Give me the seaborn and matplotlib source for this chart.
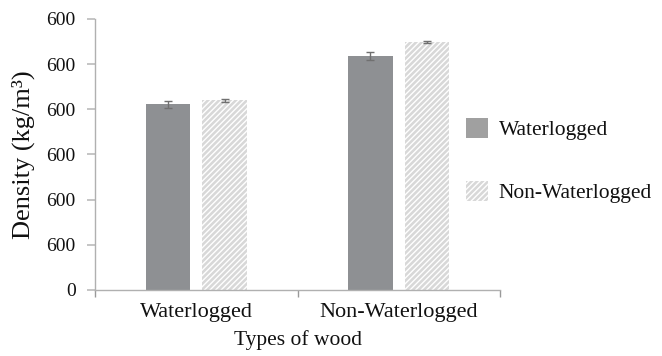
import pandas as pd
import seaborn as sns
import matplotlib.pyplot as plt
from matplotlib.patches import Patch

# values
wood_types = ['Waterlogged', 'Non-Waterlogged']
series = ['Waterlogged', 'Non-Waterlogged']
density_waterlogged = [411, 519]
density_non_waterlogged = [420, 549]
err_waterlogged = [7, 9]
err_non_waterlogged = [3, 3]
ytick_values = [0, 100, 200, 300, 400, 500, 600]
ytick_labels = ['0', '600', '600', '600', '600', '600', '600']

df = pd.DataFrame({
    'wood': wood_types * 2,
    'series': [series[0]] * 2 + [series[1]] * 2,
    'density': density_waterlogged + density_non_waterlogged,
    'err': err_waterlogged + err_non_waterlogged,
})

sns.set_style('white')
plt.rcParams['font.family'] = ['Liberation Serif', 'DejaVu Serif']
plt.rcParams['text.color'] = '#111111'
plt.rcParams['axes.labelcolor'] = '#111111'
plt.rcParams['xtick.labelcolor'] = '#111111'
plt.rcParams['ytick.labelcolor'] = '#111111'
plt.rcParams['hatch.color'] = '#999999'
plt.rcParams['hatch.linewidth'] = 1.0

fig = plt.figure(figsize=(6.62, 3.56), dpi=100)
ax = fig.add_axes([95 / 662, 1 - 290 / 356, 405 / 662, 271 / 356])

dark = '#8d9094'
light = '#d8d8d8'
sns.barplot(data=df, x='wood', y='density', hue='series', order=wood_types,
            hue_order=series, palette=[dark, light], width=0.56, gap=0.22,
            errorbar=None, legend=False, ax=ax)

# hatch the second series, add error bars
bar_groups = list(ax.containers)
for i, cont in enumerate(bar_groups):
    errs = df[df['series'] == series[i]]['err'].tolist()
    xs = []
    hs = []
    for bar in cont:
        xs.append(bar.get_x() + bar.get_width() / 2)
        hs.append(bar.get_height())
        bar.set_linewidth(0)
        if i == 1:
            bar.set_hatch('//////')
    ax.errorbar(xs, hs, yerr=errs, fmt='none', ecolor='#707070', elinewidth=1, capsize=3)

ax.set_ylim(0, 600)
ax.set_xlim(-0.5, 1.5)
ax.set_yticks(ytick_values)
ax.set_yticklabels(ytick_labels, fontsize=14)
ax.set_xticks([-0.5, 0.5, 1.5])
ax.set_xticklabels([])
ax.set_xticks([0, 1], minor=True)
ax.set_xticklabels(wood_types, minor=True, fontsize=16)
ax.tick_params(axis='x', which='minor', length=0, pad=9)
ax.tick_params(axis='x', which='major', length=5, direction='out', color='#999999', width=1)
ax.tick_params(axis='y', length=6, direction='out', color='#bbbbbb', width=1.2, pad=8)
ax.tick_params(left=True, bottom=True)

sns.despine(ax=ax)
for s in ['left', 'bottom']:
    ax.spines[s].set_color('#b0b0b0')
    ax.spines[s].set_linewidth(1)

ax.set_ylabel('Density (kg/m³)', fontsize=19, labelpad=8)
ax.set_xlabel('Types of wood', fontsize=15.5, labelpad=6)

handles = [Patch(facecolor='#a0a0a0', edgecolor='none'),
           Patch(facecolor=light, hatch='//////', linewidth=0)]
fig.legend(handles, series, loc='upper left', bbox_to_anchor=(447 / 662, 1 - 99 / 356),
           frameon=False, fontsize=15.5, handlelength=1.0, handleheight=1.0,
           handletextpad=0.5, labelspacing=1.9)

fig.savefig('out.png', dpi=100)
